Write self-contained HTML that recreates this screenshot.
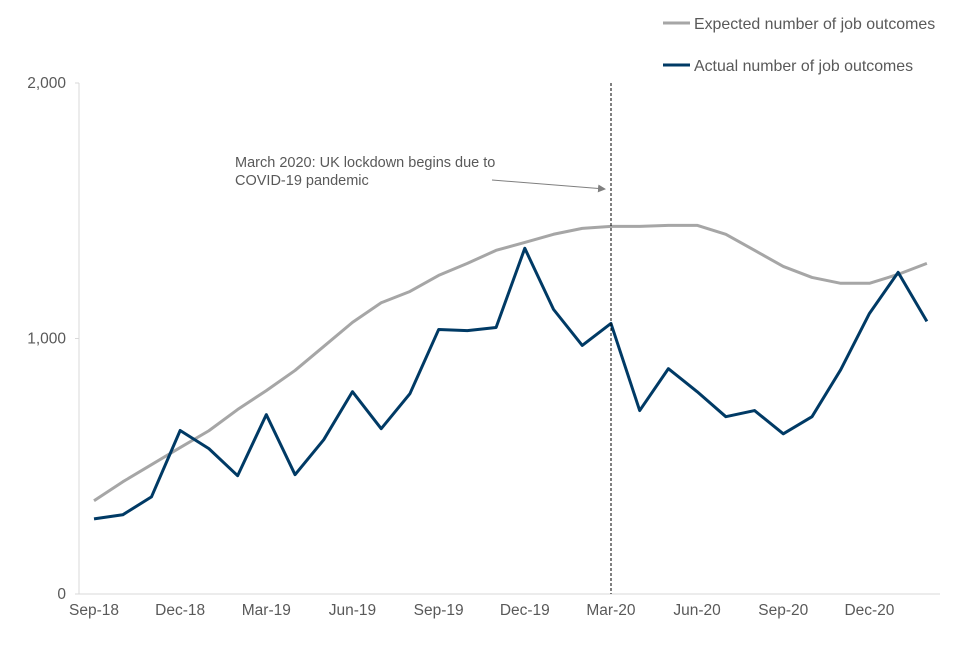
<!DOCTYPE html>
<html><head><meta charset="utf-8"><style>
body{margin:0;background:#fff;}
svg text{font-family:"Liberation Sans",Arial,sans-serif;fill:#595959;}
</style></head><body>
<svg id="chart" width="960" height="640" viewBox="0 0 960 640" xmlns="http://www.w3.org/2000/svg">
<defs><marker id="ah" markerWidth="8" markerHeight="8" refX="7" refY="4" orient="auto"><path d="M0,0 L8,4 L0,8 z" fill="#7f7f7f"/></marker></defs>
<g id="axes"></g>
<g id="series"></g>
<line x1="611" y1="83" x2="611" y2="594" stroke="#000" stroke-width="1" stroke-dasharray="3,2"/>
<text x="235" y="167" font-size="14.5"><tspan x="235">March 2020: UK lockdown begins due to</tspan><tspan x="235" dy="18">COVID-19 pandemic</tspan></text>
<line x1="492" y1="180" x2="605" y2="189" stroke="#7f7f7f" stroke-width="1" marker-end="url(#ah)"/>
<g>
<line x1="663" y1="23" x2="690" y2="23" stroke="#a6a6a6" stroke-width="3"/>
<text x="694" y="29" font-size="15.9">Expected number of job outcomes</text>
<line x1="663" y1="65" x2="690" y2="65" stroke="#003a65" stroke-width="3"/>
<text x="694" y="71" font-size="15.9">Actual number of job outcomes</text>
</g>
</svg>
<script>
const months=["Sep-18","Oct-18","Nov-18","Dec-18","Jan-19","Feb-19","Mar-19","Apr-19","May-19","Jun-19","Jul-19","Aug-19","Sep-19","Oct-19","Nov-19","Dec-19","Jan-20","Feb-20","Mar-20","Apr-20","May-20","Jun-20","Jul-20","Aug-20","Sep-20","Oct-20","Nov-20","Dec-20","Jan-21","Feb-21"];
const actual=[294,310,380,640,569,463,702,467,604,792,647,784,1035,1031,1043,1353,1114,973,1059,718,882,792,694,718,627,694,878,1098,1259,1067];
const expected=[365,439,506,573,639,722,796,875,969,1063,1140,1184,1247,1294,1345,1376,1408,1431,1439,1439,1443,1443,1408,1345,1282,1239,1216,1216,1251,1294];
const yTicks=[0,1000,2000];
const yTickLabels=["0","1,000","2,000"];
const xLabelEvery=3;
const NS="http://www.w3.org/2000/svg";
const x=i=>94+i*28.72;
const y=v=>594-v*0.2555;
function mk(t,a,p){const e=document.createElementNS(NS,t);for(const k in a)e.setAttribute(k,a[k]);p.appendChild(e);return e;}
const ax=document.getElementById('axes');
let l=mk('line',{x1:79,y1:83,x2:79,y2:594,stroke:'#d9d9d9'},ax);


l=mk('line',{x1:75,y1:594,x2:940,y2:594,stroke:'#d9d9d9'},ax);


yTicks.forEach((v,i)=>{
 const tk=mk('line',{x1:75,y1:y(v),x2:79,y2:y(v),stroke:'#d9d9d9'},ax);
 
 
 const t=mk('text',{x:66,y:y(v)+5,'text-anchor':'end','font-size':15.5},ax);
 t.textContent=yTickLabels[i];
 
 
});
months.forEach((m,i)=>{
 if(i%xLabelEvery)return;
 const t=mk('text',{x:x(i),y:615,'text-anchor':'middle','font-size':15.5},ax);
 t.textContent=m;
 
 
});
const sg=document.getElementById('series');
function line(d,c,n){
 const p=mk('polyline',{points:d.map((v,i)=>x(i)+','+y(v)).join(' '),fill:'none',stroke:c,'stroke-width':3,'stroke-linejoin':'round'},sg);
 
 
}
line(expected,'#a6a6a6','expected-line');
line(actual,'#003a65','actual-line');
</script>
</body></html>
